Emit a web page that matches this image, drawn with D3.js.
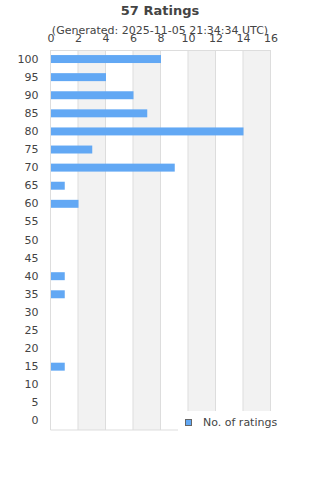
<!DOCTYPE html>
<html>
<head>
<meta charset="utf-8">
<script src="https://cdn.jsdelivr.net/npm/d3@7"></script>
<style>
  body { margin: 0; background: #fff; }
  text { font-family: "DejaVu Sans", sans-serif; fill: #444; }
</style>
</head>
<body>
<svg id="chart" width="320" height="480"></svg>
<script>
// chart data
var categories = ["100", "95", "90", "85", "80", "75", "70", "65", "60", "55", "50",
                  "45", "40", "35", "30", "25", "20", "15", "10", "5", "0"];
var counts = [8, 4, 6, 7, 14, 3, 9, 1, 2, 0, 0, 0, 1, 1, 0, 0, 0, 1, 0, 0, 0];
var xTicks = [0, 2, 4, 6, 8, 10, 12, 14, 16];
var title = "57 Ratings";
var subtitle = "(Generated: 2025-11-05 21:34:34 UTC)";
var seriesName = "No. of ratings";

var svg = d3.select("#chart");
// note: "top" is a window global, so use other names
var plotLeft = 50.5, plotRight = 270.5, plotTop = 50, plotBottom = 430;
var barColor = "#62a8f4";

var x = d3.scaleLinear().domain([0, 16]).range([plotLeft, plotRight]);
var y = d3.scaleBand().domain(categories).range([plotTop, plotBottom]).paddingInner(0.56).paddingOuter(0.28);

// alternating bands
var bands = [];
for (var i = 0; i < xTicks.length - 1; i++) {
    if (i % 2 == 1) bands.push([xTicks[i], xTicks[i + 1]]);
}
svg.append("g").selectAll("rect").data(bands).enter().append("rect")
    .attr("x", function (d) { return x(d[0]); })
    .attr("width", function (d) { return x(d[1]) - x(d[0]); })
    .attr("y", plotTop)
    .attr("height", plotBottom - plotTop)
    .attr("fill", "#f2f2f2");

// grid lines
svg.append("g").selectAll("line").data(xTicks).enter().append("line")
    .attr("x1", function (d) { return x(d); })
    .attr("x2", function (d) { return x(d); })
    .attr("y1", plotTop)
    .attr("y2", plotBottom)
    .attr("stroke", "#dddddd")
    .attr("stroke-width", 1);
svg.append("line")
    .attr("x1", plotLeft).attr("x2", plotRight)
    .attr("y1", plotTop + 0.5).attr("y2", plotTop + 0.5)
    .attr("stroke", "#dddddd");
svg.append("line")
    .attr("x1", plotLeft).attr("x2", plotRight)
    .attr("y1", plotBottom).attr("y2", plotBottom)
    .attr("stroke", "#dddddd");

// bars
svg.append("g").selectAll("rect").data(counts).enter().append("rect")
    .attr("x", x(0) + 0.5)
    .attr("y", function (d, i) { return y(categories[i]); })
    .attr("width", function (d) { return Math.max(0, x(d) - x(0)); })
    .attr("height", y.bandwidth())
    .attr("fill", barColor);

// top axis
var xAxis = d3.axisTop(x).tickValues(xTicks).tickSize(0).tickPadding(0);
var gx = svg.append("g").attr("transform", "translate(0,42)").call(xAxis);
gx.select(".domain").remove();
gx.selectAll("text").style("font-size", "11px").attr("fill", "#444").attr("dy", 0);

// left axis
var yAxis = d3.axisLeft(y).tickSize(0).tickPadding(12);
var gy = svg.append("g").attr("transform", "translate(" + plotLeft + ",0)").call(yAxis);
gy.select(".domain").remove();
gy.selectAll("text").style("font-size", "11px").attr("fill", "#444");

// titles
svg.append("text")
    .attr("x", 160).attr("y", 15)
    .attr("text-anchor", "middle")
    .style("font-size", "13px").style("font-weight", "bold")
    .text(title);
svg.append("text")
    .attr("x", 160).attr("y", 34)
    .attr("text-anchor", "middle")
    .style("font-size", "11px")
    .text(subtitle);

// legend (white box over the plot corner)
svg.append("rect")
    .attr("x", 178).attr("y", 411)
    .attr("width", 142).attr("height", 30)
    .attr("fill", "#fff");
svg.append("rect")
    .attr("x", 185.5).attr("y", 419.5)
    .attr("width", 6).attr("height", 6)
    .attr("fill", barColor).attr("stroke", "#666").attr("stroke-width", 1);
svg.append("text")
    .attr("x", 203).attr("y", 426)
    .style("font-size", "11px")
    .text(seriesName);
</script>
</body>
</html>
